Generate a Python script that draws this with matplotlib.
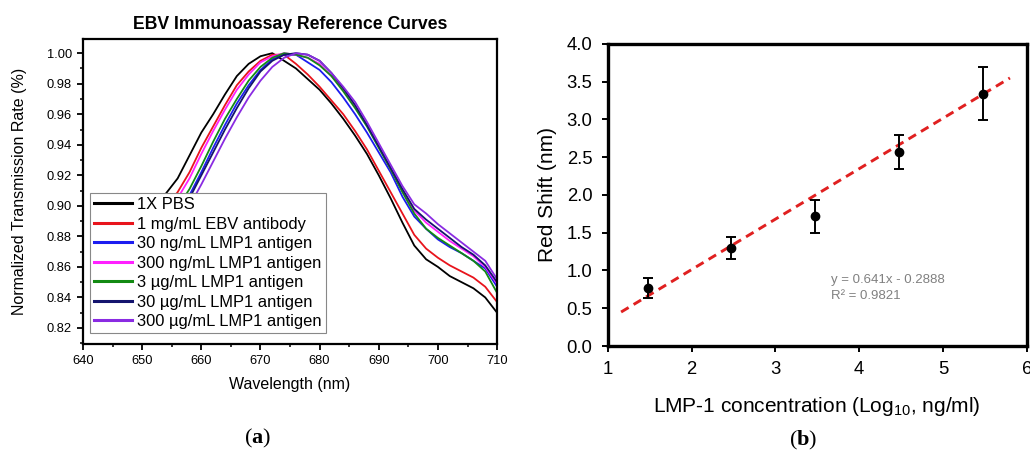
import matplotlib
matplotlib.use("Agg")
import matplotlib.pyplot as plt
from matplotlib.ticker import MultipleLocator, FormatStrFormatter

plt.rcParams['font.family'] = ['Liberation Sans', 'DejaVu Sans']
plt.rcParams['mathtext.fontset'] = 'custom'
plt.rcParams['mathtext.rm'] = 'Liberation Serif'
plt.rcParams['mathtext.bf'] = 'Liberation Serif:bold'
plt.rcParams['mathtext.sf'] = 'Liberation Sans'

# panel (a): normalized transmission spectra
wavelength = [646, 648, 650, 652, 654, 656, 658, 660, 662, 664, 666, 668, 670,
              672, 674, 676, 678, 680, 682, 684, 686, 688, 690, 692, 694, 696,
              698, 700, 702, 704, 706, 708, 710]

pbs = [0.865, 0.878, 0.889, 0.899, 0.908, 0.918, 0.933, 0.948, 0.960, 0.973, 0.985,
       0.993, 0.998, 1.000, 0.995, 0.990, 0.983, 0.976, 0.967, 0.957, 0.946, 0.934,
       0.920, 0.905, 0.889, 0.874, 0.865, 0.860, 0.854, 0.850, 0.846, 0.840, 0.830]
ebv_ab = [0.857, 0.869, 0.880, 0.890, 0.899, 0.909, 0.922, 0.938, 0.952, 0.966, 0.979,
          0.988, 0.995, 0.999, 0.999, 0.993, 0.986, 0.978, 0.969, 0.960, 0.949, 0.937,
          0.923, 0.909, 0.895, 0.881, 0.872, 0.866, 0.861, 0.857, 0.853, 0.847, 0.837]
lmp_30ng = [0.843, 0.855, 0.866, 0.876, 0.886, 0.896, 0.907, 0.922, 0.938, 0.953, 0.967,
            0.979, 0.989, 0.996, 0.999, 0.999, 0.994, 0.989, 0.981, 0.971, 0.960, 0.948,
            0.935, 0.922, 0.906, 0.893, 0.885, 0.878, 0.873, 0.869, 0.864, 0.859, 0.847]
lmp_300ng = [0.853, 0.865, 0.876, 0.886, 0.895, 0.905, 0.918, 0.934, 0.949, 0.963, 0.976,
             0.986, 0.994, 0.998, 1.000, 0.999, 0.997, 0.993, 0.985, 0.976, 0.965, 0.953,
             0.939, 0.924, 0.910, 0.897, 0.889, 0.883, 0.877, 0.872, 0.867, 0.860, 0.849]
lmp_3ug = [0.846, 0.858, 0.869, 0.879, 0.889, 0.899, 0.911, 0.926, 0.942, 0.957, 0.970,
           0.982, 0.991, 0.997, 1.000, 0.999, 0.997, 0.992, 0.985, 0.975, 0.964, 0.952,
           0.938, 0.924, 0.909, 0.895, 0.885, 0.879, 0.874, 0.869, 0.864, 0.857, 0.843]
lmp_30ug = [0.841, 0.853, 0.864, 0.874, 0.884, 0.894, 0.905, 0.920, 0.935, 0.950, 0.964,
            0.977, 0.988, 0.995, 0.999, 1.000, 0.999, 0.995, 0.987, 0.977, 0.966, 0.953,
            0.939, 0.925, 0.911, 0.898, 0.891, 0.885, 0.879, 0.873, 0.868, 0.861, 0.850]
lmp_300ug = [0.836, 0.848, 0.859, 0.869, 0.879, 0.889, 0.900, 0.914, 0.929, 0.944, 0.958,
             0.971, 0.982, 0.991, 0.997, 1.000, 0.999, 0.995, 0.987, 0.978, 0.968, 0.955,
             0.941, 0.927, 0.913, 0.901, 0.895, 0.888, 0.882, 0.876, 0.870, 0.864, 0.852]

labels = ['1X PBS', '1 mg/mL EBV antibody', '30 ng/mL LMP1 antigen',
          '300 ng/mL LMP1 antigen', '3 µg/mL LMP1 antigen', '30 µg/mL LMP1 antigen',
          '300 µg/mL LMP1 antigen']
colors = ['#000000', '#e8141c', '#1c1cf0', '#ff20ff', '#138a13', '#14146e', '#8a2be2']
curves = [pbs, ebv_ab, lmp_30ng, lmp_300ng, lmp_3ug, lmp_30ug, lmp_300ug]

# panel (b): red shift vs log concentration
log_conc = [1.477, 2.477, 3.477, 4.477, 5.477]
red_shift = [0.77, 1.30, 1.72, 2.57, 3.34]
shift_err = [0.13, 0.15, 0.22, 0.225, 0.35]
fit_x = [1.16, 5.80]
fit_y = [0.45, 3.55]

fig = plt.figure(figsize=(10.30, 4.53), dpi=100)

# ---- (a)
ax = fig.add_axes([0.0806, 0.2406, 0.402, 0.673])
for c, col, lab in zip(curves, colors, labels):
    ax.plot(wavelength, c, color=col, lw=1.3, label=lab)
ax.set_xlim(640, 710)
ax.set_ylim(0.8095, 1.0092)
ax.xaxis.set_major_locator(MultipleLocator(10))
ax.xaxis.set_minor_locator(MultipleLocator(5))
ax.yaxis.set_major_locator(MultipleLocator(0.02))
ax.yaxis.set_minor_locator(MultipleLocator(0.01))
ax.yaxis.set_major_formatter(FormatStrFormatter('%.2f'))
ax.tick_params(which='major', direction='out', length=4.5, width=1.3, labelsize=9.3, pad=3.5)
ax.tick_params(which='minor', direction='out', length=2.5, width=1.1)
for s in ax.spines.values():
    s.set_linewidth(1.6)
ax.set_title('EBV Immunoassay Reference Curves', fontsize=12.7, fontweight='bold', pad=7)
ax.set_xlabel('Wavelength (nm)', fontsize=11.5, labelpad=7)
ax.set_ylabel('Normalized Transmission Rate (%)', fontsize=11.5, labelpad=14)
leg = ax.legend(loc='upper left', bbox_to_anchor=(0.017, 0.495), borderaxespad=0,
                fontsize=11.9, frameon=True, fancybox=False, framealpha=1,
                edgecolor='#888888', handlelength=2.3, handletextpad=0.3,
                labelspacing=0.27, borderpad=0.25)
leg.get_frame().set_linewidth(0.8)
for h in leg.get_lines():
    h.set_linewidth(2.2)

# ---- (b)
bx = fig.add_axes([0.590, 0.2362, 0.4068, 0.6667])
bx.plot(fit_x, fit_y, color='#e02020', lw=2.1, ls=(0, (3, 2)), zorder=2)
bx.errorbar(log_conc, red_shift, yerr=shift_err, fmt='o', color='black', ms=6,
            ecolor='black', elinewidth=1.4, capsize=3.5, capthick=1.4, zorder=3)
bx.set_xlim(1, 6)
bx.set_ylim(0, 4)
bx.xaxis.set_major_locator(MultipleLocator(1))
bx.yaxis.set_major_locator(MultipleLocator(0.5))
bx.yaxis.set_major_formatter(FormatStrFormatter('%.1f'))
bx.tick_params(direction='out', length=4, width=1.4, labelsize=13.3, pad=7)
for s in bx.spines.values():
    s.set_linewidth(2.4)
bx.set_xlabel(r'LMP-1 concentration (Log$_{\mathsf{10}}$, ng/ml)', fontsize=15, labelpad=12)
bx.set_ylabel('Red Shift (nm)', fontsize=15, labelpad=7)
bx.text(3.67, 0.87, 'y = 0.641x - 0.2888', color='#808080', fontsize=9.5, va='center')
bx.text(3.67, 0.66, 'R² = 0.9821', color='#808080', fontsize=9.5, va='center')

fig.text(0.2505, 0.033, r'($\mathbf{a}$)', fontsize=16, ha='center', va='center',
         family='Liberation Serif')
fig.text(0.7796, 0.028, r'($\mathbf{b}$)', fontsize=16, ha='center', va='center',
         family='Liberation Serif')

fig.savefig('out.png', dpi=100)
